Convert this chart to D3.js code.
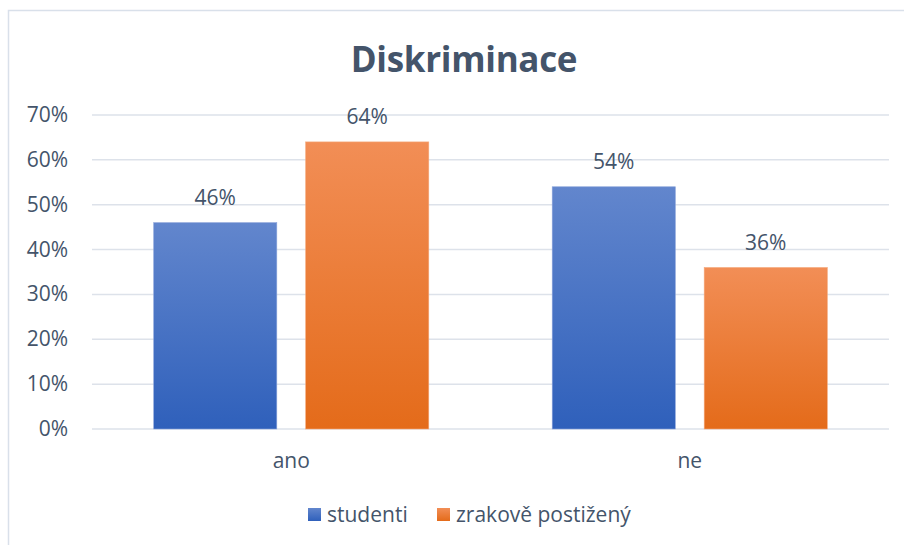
<!DOCTYPE html>
<html>
<head>
<meta charset="utf-8">
<script src="https://cdn.jsdelivr.net/npm/d3@7"></script>
<style>
  html, body { margin: 0; padding: 0; background: #ffffff; }
  svg { display: block; }
  text { font-family: "Open Sans", Lato, sans-serif; fill: #44546a; }
</style>
</head>
<body>
<svg id="chart" width="904" height="545"></svg>
<script>
const title = "Diskriminace";
const categories = ["ano", "ne"];
const seriesNames = ["studenti", "zrakově postižený"];
const studenti = [46, 54];
const zrakove = [64, 36];
const tickValues = [0, 10, 20, 30, 40, 50, 60, 70];

const W = 904, H = 545;
const svg = d3.select("#chart");

// chart frame (top & left visible)
svg.append("rect")
  .attr("x", 8.5).attr("y", 10.5)
  .attr("width", W + 20).attr("height", H + 20)
  .attr("fill", "#ffffff")
  .attr("stroke", "#d9e0ea").attr("stroke-width", 1.5);

const plot = { left: 92, right: 889, top: 115, bottom: 429 };

const y = d3.scaleLinear().domain([0, 70]).range([plot.bottom, plot.top]);
const x0 = d3.scaleBand().domain(categories).range([plot.left, plot.right]).padding(0);
const x1 = d3.scaleBand().domain(seriesNames).range([0, x0.bandwidth()])
  .paddingInner(0.19).paddingOuter(0.406);

// gradients
const defs = svg.append("defs");
const grads = [
  { id: "gBlue", top: "#6286cd", bottom: "#2f60bb" },
  { id: "gOrange", top: "#f28e56", bottom: "#e46b1a" }
];
grads.forEach(g => {
  const lg = defs.append("linearGradient").attr("id", g.id)
    .attr("x1", 0).attr("y1", 0).attr("x2", 0).attr("y2", 1);
  lg.append("stop").attr("offset", "0%").attr("stop-color", g.top);
  lg.append("stop").attr("offset", "100%").attr("stop-color", g.bottom);
});
const fills = ["url(#gBlue)", "url(#gOrange)"];
const strokes = ["#8aa3da", "#f4a77a"];

// gridlines
svg.append("g")
  .selectAll("line").data(tickValues).join("line")
  .attr("x1", plot.left).attr("x2", plot.right)
  .attr("y1", d => y(d)).attr("y2", d => y(d))
  .attr("stroke", "#dde2ea").attr("stroke-width", 1.5);

const fs = "21px";

// y tick labels
svg.append("g")
  .selectAll("text").data(tickValues).join("text")
  .attr("x", 68).attr("y", d => y(d) + 7)
  .attr("text-anchor", "end")
  .style("font-size", fs)
  .text(d => d + "%");

// bars
const rows = categories.map((c, i) => ({ cat: c, vals: [studenti[i], zrakove[i]] }));
const groups = svg.append("g").selectAll("g").data(rows).join("g")
  .attr("transform", d => `translate(${x0(d.cat)},0)`);

groups.selectAll("rect").data(d => d.vals.map((v, j) => ({ v, j }))).join("rect")
  .attr("x", d => x1(seriesNames[d.j]))
  .attr("y", d => y(d.v))
  .attr("width", x1.bandwidth())
  .attr("height", d => y(0) - y(d.v))
  .attr("fill", d => fills[d.j])
  .attr("stroke", d => strokes[d.j]).attr("stroke-width", 0.6);

groups.selectAll("text").data(d => d.vals.map((v, j) => ({ v, j }))).join("text")
  .attr("x", d => x1(seriesNames[d.j]) + x1.bandwidth() / 2)
  .attr("y", d => y(d.v) - 18)
  .attr("text-anchor", "middle")
  .style("font-size", fs)
  .text(d => d.v + "%");

// category labels
svg.append("g").selectAll("text").data(categories).join("text")
  .attr("x", d => x0(d) + x0.bandwidth() / 2)
  .attr("y", 468)
  .attr("text-anchor", "middle")
  .style("font-size", fs)
  .text(d => d);

// title
svg.append("text")
  .attr("x", 464).attr("y", 72)
  .attr("text-anchor", "middle")
  .style("font-size", "35px").style("font-weight", "bold")
  .style("letter-spacing", "-0.3px")
  .text(title);

// legend
const legendX = [308, 437];
const lg = svg.append("g").selectAll("g").data(seriesNames).join("g")
  .attr("transform", (d, i) => `translate(${legendX[i]},508)`);
lg.append("rect").attr("width", 13).attr("height", 13)
  .attr("fill", (d, i) => fills[i]);
lg.append("text").attr("x", 19).attr("y", 14)
  .style("font-size", fs)
  .text(d => d);
</script>
</body>
</html>
